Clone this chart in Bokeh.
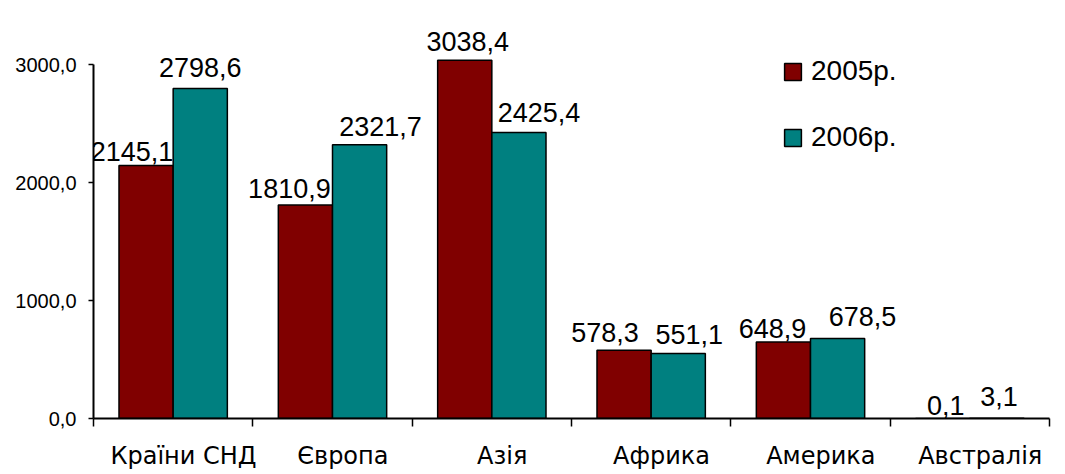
from bokeh.plotting import figure
from bokeh.models import Range1d, FixedTicker, ColumnDataSource, Legend, LegendItem
from bokeh.embed import file_html
from bokeh.resources import INLINE
from bokeh.core.properties import value

# ---- data ----
categories = ["Країни СНД", "Європа", "Азія", "Африка", "Америка", "Австралія"]
series_names = ["2005р.", "2006р."]
values_2005 = [2145.1, 1810.9, 3038.4, 578.3, 648.9, 0.1]
values_2006 = [2798.6, 2321.7, 2425.4, 551.1, 678.5, 3.1]
y_ticks = [0, 1000, 2000, 3000]
y_tick_labels = ["0,0", "1000,0", "2000,0", "3000,0"]

# label offsets in screen pixels (manual label placement as in the original)
label_dx_2005 = [-14, -16, 3, -19, -11, 3]
label_dy_2005 = [-14, -16, -19, -18, -13, -13]
label_dx_2006 = [0, 21, 20, 11, 25, 2]
label_dy_2006 = [-21, -18, -20, -19, -22, -22]

RED = "#800000"
TEAL = "#008080"
half = 0.17
bar_w = 0.34

p = figure(width=1065, height=474,
           x_range=Range1d(0, len(categories)), y_range=Range1d(0, 3477),
           output_backend="svg", toolbar_location=None,
           min_border_left=93, min_border_right=16, min_border_top=8, min_border_bottom=56)
p.grid.visible = False
p.outline_line_color = None
p.background_fill_color = "white"
p.border_fill_color = "white"

idx = list(range(len(categories)))
src05 = ColumnDataSource(dict(x=[i + 0.5 - half for i in idx], top=values_2005,
                              text=[f"{v:.1f}".replace(".", ",") for v in values_2005],
                              dx=label_dx_2005, dy=label_dy_2005))
src06 = ColumnDataSource(dict(x=[i + 0.5 + half for i in idx], top=values_2006,
                              text=[f"{v:.1f}".replace(".", ",") for v in values_2006],
                              dx=label_dx_2006, dy=label_dy_2006))

r05 = p.vbar(x="x", top="top", width=bar_w, source=src05, fill_color=RED,
             line_color="black", line_width=1.5)
r06 = p.vbar(x="x", top="top", width=bar_w, source=src06, fill_color=TEAL,
             line_color="black", line_width=1.5)

for src in (src05, src06):
    p.text(x="x", y="top", text="text", x_offset="dx", y_offset="dy", source=src,
           text_align="center", text_baseline="alphabetic",
           text_font=value("Liberation Sans"), text_font_size="27px", text_color="black")

# y axis
ya = p.yaxis[0]
ya.ticker = FixedTicker(ticks=y_ticks)
ya.major_label_overrides = {t: l for t, l in zip(y_ticks, y_tick_labels)}
ya.bounds = (0, 3000)
ya.axis_line_width = 2
ya.major_tick_in = 0
ya.major_tick_out = 5
ya.major_tick_line_width = 1.5
ya.minor_tick_line_color = None
ya.major_label_text_font = "Liberation Sans"
ya.major_label_text_font_size = "20px"
ya.major_label_text_color = "black"
ya.major_label_standoff = 12

# x axis: labels near category centres, ticks at category boundaries
xa = p.xaxis[0]
xa.ticker = FixedTicker(ticks=[i + 0.565 for i in idx], minor_ticks=list(range(len(categories) + 1)))
xa.major_label_overrides = {i + 0.565: c for i, c in zip(idx, categories)}
xa.axis_line_width = 2
xa.major_tick_line_color = None
xa.major_tick_in = 0
xa.major_tick_out = 8
xa.minor_tick_in = 0
xa.minor_tick_out = 8
xa.minor_tick_line_width = 1.5
xa.major_label_text_font = "DejaVu Sans"
xa.major_label_text_font_size = "24px"
xa.major_label_text_color = "black"
xa.major_label_standoff = 15

legend = Legend(items=[LegendItem(label=series_names[0], renderers=[r05]),
                       LegendItem(label=series_names[1], renderers=[r06])],
                location=(689, 265), orientation="vertical",
                glyph_width=21, glyph_height=21, label_height=21,
                label_standoff=8, spacing=34, padding=0, margin=0,
                border_line_color=None, background_fill_alpha=0,
                label_text_font="Liberation Sans", label_text_font_size="28px",
                label_text_color="black")
p.add_layout(legend, "center")

open("out.html", "w").write(file_html(p, INLINE))
